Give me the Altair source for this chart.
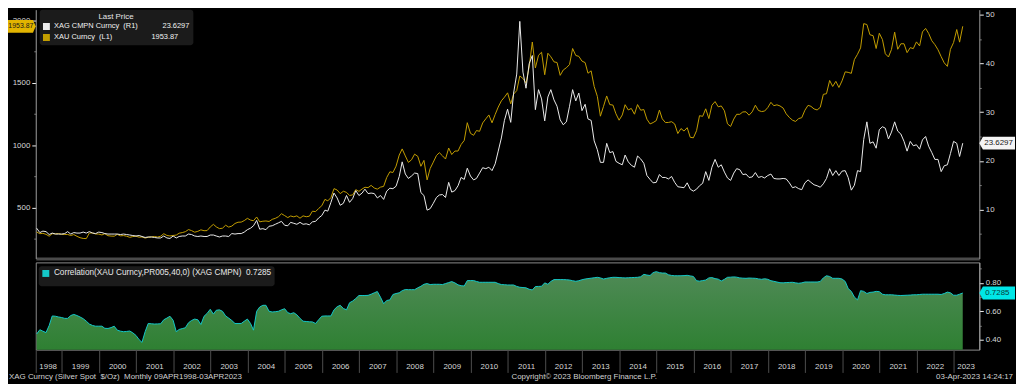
import altair as alt
import pandas as pd

# ---------------- data: monthly (month-end) Apr-1998 .. Apr-2023 ----------------
gold_1998 = [307, 293, 296, 288, 273, 293, 292, 294, 288]
gold_1999 = [287, 287, 279, 286, 272, 261, 255, 254, 299, 299, 291, 290]
gold_2000 = [283, 293, 277, 274, 273, 288, 276, 278, 273, 264, 270, 273]
gold_2001 = [265, 267, 258, 264, 267, 271, 266, 273, 293, 279, 275, 279]
gold_2002 = [282, 297, 302, 309, 326, 318, 305, 312, 324, 317, 318, 347]
gold_2003 = [368, 348, 334, 337, 361, 346, 354, 375, 385, 386, 398, 416]
gold_2004 = [402, 397, 427, 388, 393, 395, 391, 408, 416, 429, 453, 438]
gold_2005 = [422, 435, 428, 436, 417, 436, 429, 433, 473, 470, 495, 517]
gold_2006 = [568, 556, 582, 654, 643, 614, 633, 624, 599, 604, 646, 632]
gold_2007 = [651, 665, 662, 680, 659, 650, 666, 672, 743, 789, 783, 834]
gold_2008 = [923, 972, 916, 864, 885, 930, 913, 833, 880, 724, 815, 866]
gold_2009 = [919, 942, 917, 891, 979, 927, 955, 955, 1007, 1040, 1182, 1097]
gold_2010 = [1081, 1119, 1113, 1180, 1213, 1244, 1181, 1248, 1307, 1357, 1386, 1421]
gold_2011 = [1333, 1410, 1439, 1556, 1536, 1500, 1628, 1828, 1620, 1722, 1746, 1566]
gold_2012 = [1738, 1710, 1669, 1664, 1561, 1604, 1622, 1648, 1776, 1720, 1713, 1675]
gold_2013 = [1663, 1578, 1597, 1472, 1393, 1234, 1313, 1396, 1327, 1323, 1253, 1202]
gold_2014 = [1244, 1326, 1284, 1296, 1250, 1327, 1282, 1287, 1210, 1172, 1183, 1199]
gold_2015 = [1283, 1213, 1183, 1184, 1190, 1172, 1095, 1135, 1115, 1142, 1065, 1061]
gold_2016 = [1118, 1238, 1233, 1293, 1215, 1322, 1351, 1309, 1316, 1277, 1173, 1152]
gold_2017 = [1211, 1249, 1249, 1268, 1269, 1242, 1269, 1322, 1280, 1271, 1275, 1303]
gold_2018 = [1345, 1318, 1325, 1316, 1299, 1253, 1224, 1202, 1192, 1215, 1222, 1282]
gold_2019 = [1321, 1313, 1292, 1284, 1305, 1409, 1414, 1520, 1472, 1513, 1464, 1517]
gold_2020 = [1589, 1585, 1577, 1687, 1730, 1781, 1975, 1968, 1886, 1879, 1776, 1898]
gold_2021 = [1847, 1734, 1708, 1769, 1907, 1770, 1814, 1814, 1743, 1783, 1775, 1829]
gold_2022 = [1797, 1909, 1937, 1897, 1838, 1807, 1766, 1711, 1661, 1633, 1769, 1824]
gold_2023 = [1928, 1827, 1953.87]

silver_1998 = [6.2, 5.3, 5.6, 5.5, 4.9, 5.2, 5.0, 5.0, 5.0]
silver_1999 = [5.1, 5.5, 5.0, 5.3, 5.2, 5.2, 5.4, 5.2, 5.5, 5.2, 5.1, 5.4]
silver_2000 = [5.3, 5.1, 5.0, 5.0, 5.0, 5.0, 4.9, 5.0, 4.9, 4.8, 4.7, 4.6]
silver_2001 = [4.7, 4.5, 4.3, 4.4, 4.4, 4.3, 4.2, 4.2, 4.6, 4.2, 4.1, 4.6]
silver_2002 = [4.2, 4.5, 4.6, 4.6, 5.0, 4.9, 4.6, 4.5, 4.6, 4.5, 4.5, 4.8]
silver_2003 = [4.8, 4.6, 4.4, 4.6, 4.6, 4.5, 5.1, 5.0, 5.1, 5.1, 5.4, 5.9]
silver_2004 = [6.2, 6.7, 7.8, 6.0, 6.1, 5.9, 6.6, 6.7, 7.0, 7.3, 7.6, 6.8]
silver_2005 = [6.7, 7.4, 7.2, 7.0, 7.4, 7.0, 7.1, 6.9, 7.5, 7.6, 8.3, 8.8]
silver_2006 = [9.9, 9.7, 11.5, 13.4, 12.4, 10.9, 11.3, 12.9, 11.5, 12.3, 13.9, 12.9]
silver_2007 = [13.4, 14.2, 13.3, 13.4, 13.3, 12.4, 12.9, 12.1, 13.8, 14.4, 14.3, 14.8]
silver_2008 = [16.8, 19.8, 17.3, 16.4, 16.9, 17.5, 17.4, 13.5, 12.9, 9.9, 10.2, 11.3]
silver_2009 = [12.5, 13.0, 13.1, 12.5, 15.6, 13.6, 13.9, 14.9, 16.6, 16.2, 18.5, 16.9]
silver_2010 = [16.1, 16.4, 17.5, 18.6, 18.4, 18.7, 18.0, 19.4, 22.0, 24.7, 28.3, 30.6]
silver_2011 = [27.9, 33.9, 37.8, 48.6, 38.2, 34.9, 39.9, 41.6, 30.5, 34.6, 32.7, 28.2]
silver_2012 = [33.1, 34.6, 32.5, 31.2, 28.4, 27.4, 28.0, 31.2, 34.6, 32.3, 33.9, 30.3]
silver_2013 = [31.6, 28.6, 28.3, 24.1, 22.3, 19.7, 19.7, 23.6, 21.7, 21.9, 19.9, 19.5]
silver_2014 = [19.2, 21.2, 19.8, 19.1, 18.7, 21.0, 20.4, 19.5, 17.0, 16.2, 15.5, 15.6]
silver_2015 = [17.2, 16.6, 16.6, 16.3, 16.8, 15.6, 14.7, 14.6, 14.5, 15.5, 14.2, 13.8]
silver_2016 = [14.2, 14.9, 15.4, 17.8, 16.0, 18.7, 20.3, 18.7, 19.2, 17.7, 16.5, 16.0]
silver_2017 = [17.5, 18.4, 18.2, 17.2, 17.3, 16.6, 16.7, 17.6, 16.6, 16.8, 16.5, 17.0]
silver_2018 = [17.3, 16.4, 16.3, 16.3, 16.4, 16.3, 15.5, 14.5, 14.7, 14.3, 14.1, 15.5]
silver_2019 = [16.1, 15.6, 15.1, 14.9, 14.6, 15.3, 16.4, 18.4, 17.0, 18.0, 17.0, 17.9]
silver_2020 = [18.0, 16.6, 14.0, 15.0, 18.0, 17.8, 24.4, 28.0, 23.6, 23.9, 22.6, 26.4]
silver_2021 = [27.0, 26.7, 24.5, 25.9, 28.0, 26.1, 25.5, 24.0, 22.0, 24.0, 23.1, 23.3]
silver_2022 = [22.4, 24.3, 25.0, 23.0, 21.7, 20.3, 20.3, 17.8, 19.0, 19.2, 21.5, 24.0]
silver_2023 = [23.6, 20.9, 23.6297]

corr_1998 = [0.44, 0.47, 0.46, 0.45, 0.50, 0.567, 0.565, 0.56, 0.556]
corr_1999 = [0.55, 0.55, 0.57, 0.578, 0.57, 0.56, 0.548, 0.53, 0.51, 0.50, 0.495, 0.495]
corr_2000 = [0.495, 0.48, 0.479, 0.485, 0.495, 0.467, 0.46, 0.456, 0.458, 0.461, 0.448, 0.43]
corr_2001 = [0.40, 0.381, 0.456, 0.514, 0.512, 0.51, 0.511, 0.512, 0.54, 0.552, 0.565, 0.537]
corr_2002 = [0.456, 0.472, 0.478, 0.484, 0.519, 0.535, 0.545, 0.54, 0.507, 0.565, 0.585, 0.614]
corr_2003 = [0.58, 0.607, 0.61, 0.60, 0.567, 0.552, 0.535, 0.514, 0.514, 0.514, 0.53, 0.545]
corr_2004 = [0.514, 0.467, 0.60, 0.63, 0.642, 0.642, 0.60, 0.595, 0.597, 0.60, 0.61, 0.618]
corr_2005 = [0.59, 0.583, 0.59, 0.575, 0.55, 0.53, 0.528, 0.526, 0.525, 0.514, 0.54, 0.565]
corr_2006 = [0.567, 0.567, 0.567, 0.61, 0.632, 0.642, 0.62, 0.61, 0.66, 0.672, 0.69, 0.711]
corr_2007 = [0.711, 0.711, 0.712, 0.72, 0.73, 0.739, 0.699, 0.653, 0.676, 0.68, 0.718, 0.725]
corr_2008 = [0.73, 0.745, 0.753, 0.752, 0.752, 0.752, 0.765, 0.776, 0.79, 0.795, 0.788, 0.79]
corr_2009 = [0.79, 0.79, 0.788, 0.795, 0.802, 0.809, 0.80, 0.786, 0.78, 0.778, 0.816, 0.816]
corr_2010 = [0.816, 0.81, 0.804, 0.804, 0.804, 0.804, 0.804, 0.804, 0.795, 0.788, 0.787, 0.785]
corr_2011 = [0.785, 0.785, 0.775, 0.769, 0.767, 0.765, 0.755, 0.75, 0.774, 0.775, 0.776, 0.80]
corr_2012 = [0.79, 0.81, 0.823, 0.823, 0.823, 0.823, 0.822, 0.82, 0.815, 0.811, 0.815, 0.822]
corr_2013 = [0.827, 0.83, 0.833, 0.836, 0.839, 0.835, 0.827, 0.832, 0.836, 0.839, 0.839, 0.837]
corr_2014 = [0.836, 0.835, 0.836, 0.837, 0.838, 0.839, 0.843, 0.86, 0.855, 0.852, 0.872, 0.879]
corr_2015 = [0.872, 0.869, 0.869, 0.857, 0.852, 0.85, 0.85, 0.85, 0.851, 0.853, 0.849, 0.845]
corr_2016 = [0.815, 0.812, 0.816, 0.82, 0.835, 0.837, 0.83, 0.826, 0.813, 0.825, 0.839, 0.84]
corr_2017 = [0.842, 0.84, 0.835, 0.833, 0.832, 0.834, 0.833, 0.832, 0.828, 0.825, 0.829, 0.825]
corr_2018 = [0.815, 0.811, 0.806, 0.801, 0.80, 0.802, 0.803, 0.804, 0.80, 0.797, 0.80, 0.806]
corr_2019 = [0.806, 0.806, 0.806, 0.806, 0.81, 0.835, 0.85, 0.845, 0.832, 0.832, 0.832, 0.827]
corr_2020 = [0.81, 0.76, 0.74, 0.70, 0.68, 0.745, 0.74, 0.725, 0.733, 0.735, 0.74, 0.738]
corr_2021 = [0.72, 0.716, 0.716, 0.716, 0.714, 0.712, 0.711, 0.712, 0.713, 0.714, 0.716, 0.716]
corr_2022 = [0.718, 0.72, 0.72, 0.72, 0.72, 0.72, 0.72, 0.718, 0.725, 0.735, 0.73, 0.713]
corr_2023 = [0.713, 0.72, 0.7285]

years = list(range(1998, 2024))
gold = sum((globals()[f"gold_{y}"] for y in years), [])
silver = sum((globals()[f"silver_{y}"] for y in years), [])
corr = sum((globals()[f"corr_{y}"] for y in years), [])

NB = "\u00a0"
label_xag = "XAG CMPN Curncy" + NB * 2 + "(R1)" + NB * 12 + "23.6297"
label_xau = "XAU Curncy" + NB * 2 + "(L1)" + NB * 19 + "1953.87"
label_corr = "Correlation(XAU Curncy,PR005,40,0) (XAG CMPN)" + NB * 2 + "0.7285"
footer_left = "XAG Curncy (Silver Spot" + NB * 2 + "$/Oz)" + NB * 2 + "Monthly 09APR1998-03APR2023"
footer_mid = "Copyright\u00a9 2023 Bloomberg Finance L.P."
footer_right = "03-Apr-2023 14:24:17"

dates = pd.date_range("1998-04-30", periods=len(gold), freq=pd.offsets.MonthEnd())
df = pd.DataFrame({"date": dates, "gold": gold, "silver": silver, "corr": corr})
last = df.tail(1)
foot = pd.DataFrame({"l": [footer_left], "m": [footer_mid], "r": [footer_right]})
df_s = df.assign(s=label_xag)
df_g = df.assign(s=label_xau)
df_c = df.assign(s=label_corr)

# ---------------- style ----------------
FONT = "'Liberation Sans Narrow', 'Liberation Sans', Arial, sans-serif"
FS = 8
W, H1, H2 = 952, 251, 88
LAB = "#d6d6d6"
AXC = "#a0a0a0"
GOLD = "#c39e00"
SILVER = "#ececec"
CYAN = "#14c8c8"

x_scale = alt.Scale(domain=[alt.DateTime(year=1998, month=4, date=21),
                            alt.DateTime(year=2023, month=9, date=10)])
gold_scale = alt.Scale(domain=[95, 2087], nice=False, zero=False)
silver_scale = alt.Scale(domain=[0, 51.0], nice=False, zero=False)
corr_scale = alt.Scale(domain=[0.33, 0.944], nice=False, zero=False)

def major(test, a, b):
    return {"condition": {"test": test, "value": a}, "value": b}

# ---------------- top panel ----------------
gold_axis = alt.Axis(
    orient="left", title=None, grid=False, values=list(range(250, 2001, 250)), format="d",
    labelExpr="datum.value % 500 === 0 ? datum.label : ''", labelOverlap=False, zindex=0,
    tickSize=major("datum.value % 500 === 0", 4, 2),
    tickColor=major("datum.value % 500 === 0", "#f0f0f0", "#777777"),
    domainColor=AXC, labelColor=LAB, labelFont=FONT, labelFontSize=FS, labelPadding=2,
)
silver_axis = alt.Axis(
    orient="right", title=None, grid=False, values=list(range(5, 51, 5)), format="d",
    labelExpr="datum.value % 10 === 0 ? datum.label : ''", labelOverlap=False,
    tickSize=major("datum.value % 10 === 0", 4, 2),
    tickColor=major("datum.value % 10 === 0", "#f0f0f0", "#777777"),
    domainColor=AXC, labelColor=LAB, labelFont=FONT, labelFontSize=FS, labelPadding=2,
)
x_top_axis = alt.Axis(title=None, labels=False, ticks=False, grid=False,
                      domain=True, domainColor="#4a4a4a", domainWidth=3)

color_scale = alt.Scale(domain=[label_xag, label_xau], range=[SILVER, GOLD])
top_legend = alt.Legend(
    title="Last Price", orient="none", legendX=4, legendY=0, direction="vertical",
    fillColor="#1b1b1b", padding=3, cornerRadius=3,
    titleColor="#e6e6e6", titleFont=FONT, titleFontSize=FS, titleFontWeight="normal",
    titleAnchor="middle", titleAlign="center", titlePadding=1,
    labelFont=FONT, labelFontSize=7.5, labelColor="#f2f2f2", labelLimit=400,
    symbolType="square", symbolSize=9, symbolStrokeWidth=4, rowPadding=1, clipHeight=10,
)

silver_line = alt.Chart(df_s).mark_line(strokeWidth=1, clip=True).encode(
    x=alt.X("date:T", scale=x_scale, axis=x_top_axis),
    y=alt.Y("silver:Q", scale=silver_scale, axis=silver_axis),
    color=alt.Color("s:N", scale=color_scale, legend=top_legend),
)
silver_tag = alt.Chart(last).mark_point(
    shape="M-1,0L-0.8,-0.36L1,-0.36L1,0.36L-0.8,0.36Z", size=1296, filled=True,
    fill="#f4f4f4", opacity=1, strokeWidth=0,
).encode(x=alt.value(W + 18), y=alt.Y("silver:Q", scale=silver_scale, axis=silver_axis))
silver_txt = alt.Chart(last).mark_text(
    align="left", baseline="middle", font=FONT, fontSize=FS, color="#202020",
).encode(x=alt.value(W + 5), y=alt.Y("silver:Q", scale=silver_scale, axis=silver_axis),
         text=alt.Text("silver:Q", format=".4f"))

gold_line = alt.Chart(df_g).mark_line(strokeWidth=1, clip=True).encode(
    x=alt.X("date:T", scale=x_scale, axis=x_top_axis),
    y=alt.Y("gold:Q", scale=gold_scale, axis=gold_axis),
    color=alt.Color("s:N", scale=color_scale, legend=top_legend),
)
gold_tag = alt.Chart(last).mark_point(
    shape="M1,0L0.8,-0.46L-1,-0.46L-1,0.46L0.8,0.46Z", size=784, filled=True,
    fill="#e2b400", opacity=1, strokeWidth=0,
).encode(x=alt.value(-14), y=alt.Y("gold:Q", scale=gold_scale, axis=gold_axis))
gold_txt = alt.Chart(last).mark_text(
    align="center", baseline="middle", font=FONT, fontSize=7, color="#1a1a1a",
).encode(x=alt.value(-15), y=alt.Y("gold:Q", scale=gold_scale, axis=gold_axis),
         text=alt.Text("gold:Q", format=".2f"))

top = alt.layer(
    alt.layer(gold_line, gold_tag, gold_txt),
    alt.layer(silver_line, silver_tag, silver_txt),
).resolve_scale(y="independent").properties(width=W, height=H1)

# ---------------- bottom panel ----------------
x_bottom_axis = alt.Axis(
    title=None, grid=False, domain=False,
    values=[alt.DateTime(year=1998, month=4, date=21)] + [alt.DateTime(year=y, month=1, date=1) for y in range(1999, 2024)],
    labelExpr="timeFormat(datum.value, '%Y')",
    tickSize=23, tickColor="#4e4e4e", tickWidth=1,
    labelPadding=-10, labelBaseline="top", labelAlign="center", labelFlush=False, labelOverlap=False,
    labelOffset=major("year(datum.value) === 1998 || year(datum.value) === 2023", 12, 18.5),
    labelFont=FONT, labelFontSize=FS, labelColor=LAB,
)
corr_axis = alt.Axis(
    orient="right", title=None, grid=False, values=[0.4, 0.5, 0.6, 0.7, 0.8, 0.9], format=".2f",
    labelExpr="round(datum.value * 10) % 2 === 0 ? datum.label : ''", labelOverlap=False,
    tickSize=major("round(datum.value * 10) % 2 === 0", 4, 2),
    tickColor=major("round(datum.value * 10) % 2 === 0", "#f0f0f0", "#777777"),
    domainColor=AXC, labelColor=LAB, labelFont=FONT, labelFontSize=FS, labelPadding=2,
)
green = alt.Gradient(
    gradient="linear",
    stops=[alt.GradientStop(color="#4f8a56", offset=0), alt.GradientStop(color="#1b7a1d", offset=1)],
    x1=1, x2=1, y1=0, y2=1,
)
area = alt.Chart(df).mark_area(color=green, clip=True, opacity=1).encode(
    x=alt.X("date:T", scale=x_scale, axis=x_bottom_axis),
    y=alt.Y("corr:Q", scale=corr_scale, axis=corr_axis),
)
corr_line = alt.Chart(df_c).mark_line(strokeWidth=1, clip=True).encode(
    x=alt.X("date:T", scale=x_scale, axis=x_bottom_axis),
    y=alt.Y("corr:Q", scale=corr_scale, axis=corr_axis),
    stroke=alt.Stroke("s:N", scale=alt.Scale(range=[CYAN]),
                      legend=alt.Legend(
                          title=None, orient="none", legendX=3, legendY=4,
                          fillColor="#1b1b1b", padding=3, cornerRadius=3,
                          labelFont=FONT, labelFontSize=8.3, labelColor="#e8e8e8", labelLimit=500,
                          symbolType="square", symbolSize=9, symbolStrokeWidth=4)),
)
corr_tag = alt.Chart(last).mark_point(
    shape="M-1,0L-0.8,-0.36L1,-0.36L1,0.36L-0.8,0.36Z", size=1296, filled=True,
    fill="#00e6e6", opacity=1, strokeWidth=0,
).encode(x=alt.value(W + 18), y=alt.Y("corr:Q", scale=corr_scale, axis=corr_axis))
corr_txt = alt.Chart(last).mark_text(
    align="left", baseline="middle", font=FONT, fontSize=FS, color="#0a3a3a",
).encode(x=alt.value(W + 6), y=alt.Y("corr:Q", scale=corr_scale, axis=corr_axis),
         text=alt.Text("corr:Q", format=".4f"))

ft = dict(font=FONT, fontSize=FS, color="#d0d0d0", baseline="alphabetic")
f_left = alt.Chart(foot).mark_text(align="left", **ft).encode(x=alt.value(-27), y=alt.value(H2 + 30), text="l:N")
f_mid = alt.Chart(foot).mark_text(align="left", **ft).encode(x=alt.value(480), y=alt.value(H2 + 30), text="m:N")
f_right = alt.Chart(foot).mark_text(align="right", **ft).encode(x=alt.value(W + 34), y=alt.value(H2 + 30), text="r:N")

bottom = alt.layer(area, corr_line, corr_tag, corr_txt, f_left, f_mid, f_right).properties(
    width=W, height=H2, view=alt.ViewBackground(stroke="#8c8c8c", strokeWidth=1),
)

chart = alt.vconcat(top, bottom, spacing=3).resolve_scale(
    color="independent", stroke="independent"
).resolve_legend(color="independent", stroke="independent").properties(
    padding=0, background="#000000",
).configure_view(stroke=None)

chart.save("out.html", embed_options={"renderer": "svg", "actions": False})
